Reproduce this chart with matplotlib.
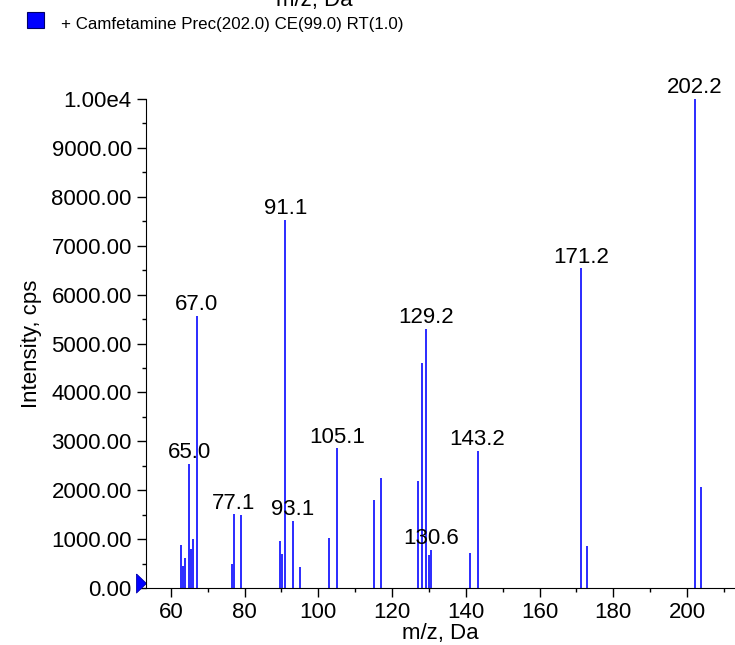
import matplotlib
matplotlib.use("Agg")
import matplotlib.pyplot as plt
from matplotlib.patches import Rectangle
from matplotlib.ticker import MultipleLocator, FuncFormatter

plt.rcParams['font.family'] = ['Liberation Sans', 'DejaVu Sans']

# peak list
mz = [62.9, 63.4, 63.8, 65.0, 65.5, 66.0, 67.0, 76.5, 77.1, 79.0,
      89.5, 90.2, 91.1, 93.1, 95.1, 103.0, 105.1, 115.0, 117.0, 127.1,
      128.0, 129.2, 130.1, 130.6, 141.1, 143.2, 171.2, 172.8, 202.2, 203.9]
intensity = [885, 456, 613, 2540, 803, 1000, 5565, 490, 1512, 1498,
             967, 708, 7527, 1375, 429, 1035, 2861, 1805, 2248, 2187,
             4598, 5306, 681, 783, 715, 2812, 6540, 871, 10000, 2070]
labeled = [65.0, 67.0, 77.1, 91.1, 93.1, 105.1, 129.2, 130.6, 143.2, 171.2, 202.2]

legend_text = "+ Camfetamine Prec(202.0) CE(99.0) RT(1.0)"
W, H = 735, 645

fig = plt.figure(figsize=(W / 100, H / 100), dpi=100)
ax = fig.add_axes([145.7 / W, 56.7 / H, (W - 145.7) / W, (588.3 - 98.7) / H])

ax.vlines(mz, 0, intensity, colors='#1a1aff', linewidth=1.3)

for m, v in zip(mz, intensity):
    if m in labeled:
        ax.annotate("%.1f" % m, (m, v), xytext=(0, 4), textcoords='offset points',
                    ha='center', va='baseline', fontsize=16)

ax.set_xlim(53.2, 213.0)
ax.set_ylim(0, 10000)
ax.spines['top'].set_visible(False)
ax.spines['right'].set_visible(False)

ax.xaxis.set_major_locator(MultipleLocator(20))
ax.xaxis.set_minor_locator(MultipleLocator(10))
ax.yaxis.set_major_locator(MultipleLocator(1000))
ax.yaxis.set_minor_locator(MultipleLocator(500))
ax.yaxis.set_major_formatter(FuncFormatter(
    lambda v, p: '1.00e4' if v >= 10000 else '%.2f' % v))
ax.tick_params(which='major', length=6.5, width=1, labelsize=16, pad=3.5)
ax.tick_params(which='minor', length=3, width=1)

ax.set_xlabel("m/z, Da", fontsize=16, labelpad=0)
ax.set_ylabel("Intensity, cps", fontsize=16, labelpad=7)

# precursor marker on the axis
tri = [(-0.26, 0.5), (0.26, 0.0), (-0.26, -0.5), (-0.26, 0.5)]
ax.plot([53.2 - 1.35], [100], marker=tri, markersize=13.7, color='#0000ff',
        markeredgecolor='#0000aa', markeredgewidth=0.6, clip_on=False)

# legend / title region
fig.patches.append(Rectangle((27 / W, 1 - 28 / H), 17 / W, 16 / H,
                             transform=fig.transFigure, facecolor='#0000ff',
                             edgecolor='#000066', linewidth=0.8))
fig.text(61 / W, 1 - 25 / H, legend_text, fontsize=12.2, va='center', ha='left')
fig.text(314 / W, 1 - 6 / H, "m/z, Da", fontsize=16, va='baseline', ha='center')

fig.savefig("out.png", dpi=100)
